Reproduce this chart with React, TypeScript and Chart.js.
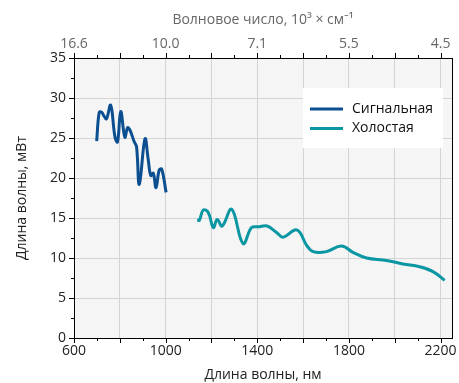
import React, { useEffect, useRef } from "react";
import { Chart, registerables } from "chart.js";

Chart.register(...registerables);

const signalWavelength = [699, 710, 721, 732, 742, 760, 779, 790, 804, 822, 834, 844, 862, 873, 885, 910, 924, 935, 946, 958, 972, 983, 1002];
const signalPower = [24.6, 28.2, 28.2, 27.7, 27.4, 29.1, 25.1, 24.5, 28.3, 25.1, 26.3, 26.0, 24.6, 23.9, 19.2, 24.9, 22.3, 20.3, 20.6, 18.8, 21.0, 21.1, 18.2];

const idlerWavelength = [1138, 1147, 1164, 1186, 1208, 1225, 1247, 1288, 1338, 1375, 1404, 1443, 1484, 1513, 1564, 1586, 1615, 1644, 1702, 1768, 1818, 1877, 1964, 2036, 2109, 2167, 2218];
const idlerPower = [14.8, 14.7, 16.0, 15.7, 13.8, 14.8, 14.0, 16.1, 11.8, 13.8, 13.9, 14.0, 13.2, 12.6, 13.5, 13.2, 11.6, 10.8, 10.8, 11.5, 10.7, 10.0, 9.7, 9.25, 8.9, 8.3, 7.2];

const seriesNames = ["Сигнальная", "Холостая"];
const seriesColors = ["#0b4f91", "#0a96a3"];

const bottomTicks = [600, 800, 1000, 1200, 1400, 1600, 1800, 2000, 2200];
const bottomLabels: Record<number, string> = { 600: "600", 1000: "1000", 1400: "1400", 1800: "1800", 2200: "2200" };
const topLabels: Record<number, string> = { 600: "16.6", 1000: "10.0", 1400: "7.1", 1800: "5.5", 2200: "4.5" };
const yTicks = [0, 5, 10, 15, 20, 25, 30, 35];

const FONT = "'Open Sans', 'Noto Sans', sans-serif";

export default function App() {
  const ref = useRef<HTMLCanvasElement | null>(null);
  useEffect(() => {
    document.body.style.margin = "0";
    const ctx = ref.current!;
    const framePlugin = {
      id: "frame",
      beforeDraw(chart: any) {
        const { ctx, chartArea: a } = chart;
        ctx.save();
        ctx.fillStyle = "#f5f5f5";
        ctx.fillRect(a.left, a.top, a.right - a.left, a.bottom - a.top);
        ctx.restore();
      },
      afterDraw(chart: any) {
        const { ctx, chartArea: a, scales } = chart;
        const x = scales.x;
        const y = scales.y;
        ctx.save();
        ctx.strokeStyle = "#000";
        ctx.lineWidth = 1;
        ctx.strokeRect(Math.round(a.left) + 0.5, Math.round(a.top) + 0.5, Math.round(a.right - a.left), Math.round(a.bottom - a.top));
        ctx.beginPath();
        for (let v = 600; v <= 2200; v += 100) {
          const px = Math.round(x.getPixelForValue(v)) + 0.5;
          const len = v % 200 === 0 ? 5 : 3;
          ctx.moveTo(px, Math.round(a.bottom));
          ctx.lineTo(px, Math.round(a.bottom) + len);
          ctx.moveTo(px, Math.round(a.top));
          ctx.lineTo(px, Math.round(a.top) - len);
        }
        for (let v = 0; v <= 35; v += 2.5) {
          const py = Math.round(y.getPixelForValue(v)) + 0.5;
          const len = v % 5 === 0 ? 5 : 3;
          ctx.moveTo(Math.round(a.left), py);
          ctx.lineTo(Math.round(a.left) - len, py);
        }
        ctx.stroke();

        // legend
        const bx = 303, by = 88, bw = 140, bh = 60;
        ctx.fillStyle = "#ffffff";
        ctx.fillRect(bx, by, bw, bh);
        ctx.font = `14px ${FONT}`;
        ctx.textBaseline = "middle";
        chart.data.datasets.forEach((ds: any, i: number) => {
          const ly = 109 + i * 19.5;
          ctx.strokeStyle = ds.borderColor;
          ctx.lineWidth = 3;
          ctx.beginPath();
          ctx.moveTo(310, ly);
          ctx.lineTo(343, ly);
          ctx.stroke();
          ctx.fillStyle = "#111";
          ctx.fillText(ds.label, 352, ly);
        });
        ctx.restore();
      },
    };
    const chart = new Chart(ctx, {
      type: "line",
      data: {
        datasets: [
          {
            label: seriesNames[0],
            data: signalWavelength.map((w, i) => ({ x: w, y: signalPower[i] })),
            borderColor: seriesColors[0],
            borderWidth: 3,
            pointRadius: 0,
            tension: 0.4,
          },
          {
            label: seriesNames[1],
            data: idlerWavelength.map((w, i) => ({ x: w, y: idlerPower[i] })),
            borderColor: seriesColors[1],
            borderWidth: 3,
            pointRadius: 0,
            tension: 0.4,
          },
        ],
      },
      options: {
        animation: false,
        responsive: false,
        layout: { padding: { left: 0, right: 7, top: 0, bottom: 0 } },
        plugins: { legend: { display: false }, tooltip: { enabled: false } },
        scales: {
          x: {
            type: "linear",
            min: 600,
            max: 2250,
            position: "bottom",
            afterBuildTicks: (s: any) => { s.ticks = bottomTicks.map((v) => ({ value: v })); },
            afterFit: (s: any) => { s.height = 45; },
            grid: { color: "#d4d4d4", lineWidth: 1, tickLength: 5, tickColor: "rgba(0,0,0,0)" },
            border: { display: false },
            ticks: {
              autoSkip: false,
              maxRotation: 0,
              padding: 0,
              color: "#222",
              font: { family: FONT, size: 14 },
              callback: (v: any) => bottomLabels[v] ?? "",
            },
            title: { display: true, text: "Длина волны, нм", color: "#222", font: { family: FONT, size: 14 }, padding: { top: 0, bottom: 0 } },
          },
          x2: {
            type: "linear",
            min: 600,
            max: 2250,
            position: "top",
            afterBuildTicks: (s: any) => { s.ticks = bottomTicks.map((v) => ({ value: v })); },
            afterFit: (s: any) => { s.height = 58; },
            grid: { display: true, drawOnChartArea: false, tickLength: 5, tickColor: "rgba(0,0,0,0)" },
            border: { display: false },
            ticks: {
              autoSkip: false,
              maxRotation: 0,
              padding: 1,
              color: "#666",
              font: { family: FONT, size: 14 },
              callback: (v: any) => topLabels[v] ?? "",
            },
            title: { display: true, text: "Волновое число, 10³ × см⁻¹", color: "#666", font: { family: FONT, size: 14 }, padding: { top: 12, bottom: 0 } },
          },
          y: {
            type: "linear",
            min: 0,
            max: 35,
            afterBuildTicks: (s: any) => { s.ticks = yTicks.map((v) => ({ value: v })); },
            afterFit: (s: any) => { s.width = 74; },
            grid: { color: "#d4d4d4", lineWidth: 1, tickLength: 5, tickColor: "rgba(0,0,0,0)" },
            border: { display: false },
            ticks: {
              padding: 3,
              color: "#222",
              font: { family: FONT, size: 14 },
            },
            title: { display: true, text: "Длина волны, мВт", color: "#222", font: { family: FONT, size: 14 }, padding: { top: 14, bottom: 4 } },
          },
        },
      },
      plugins: [framePlugin],
    } as any);
    return () => chart.destroy();
  }, []);
  return <canvas ref={ref} width={459} height={383} style={{ display: "block" }} />;
}
